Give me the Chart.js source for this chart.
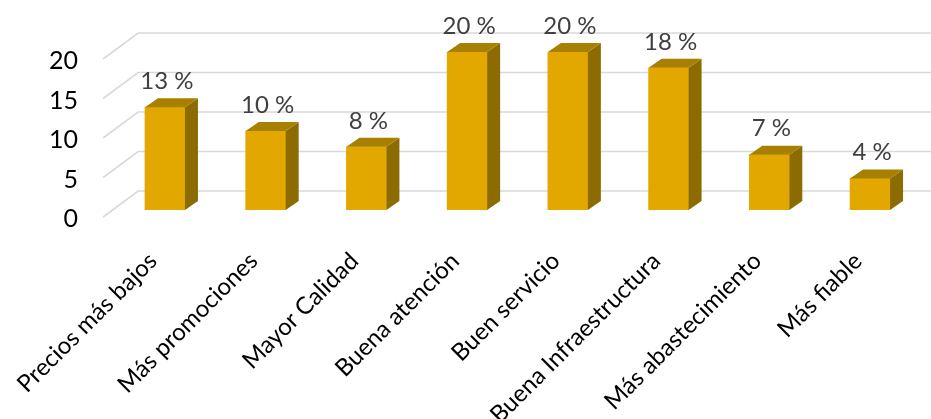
<!DOCTYPE html>
<html>
<head>
<meta charset="utf-8">
<script src="https://cdn.jsdelivr.net/npm/chart.js@4.4.1/dist/chart.umd.min.js"></script>
<style>
  html, body { margin: 0; padding: 0; background: #ffffff; }
  #wrap { width: 931px; height: 419px; }
</style>
</head>
<body>
<div id="wrap"><canvas id="c" width="931" height="419"></canvas></div>
<script>
// Percentages per reason
const categories = [
  'Precios más bajos', 'Más promociones', 'Mayor Calidad', 'Buena atención',
  'Buen servicio', 'Buena Infraestructura', 'Más abastecimiento', 'Más fiable'
];
const values = [13, 10, 8, 20, 20, 18, 7, 4];
const yTicks = [0, 5, 10, 15, 20];

const FONT = 'Lato, "Noto Sans", sans-serif';
const FRONT = '#E2A800';
const SIDE = '#8C6C00';
const TOP = '#A78000';
const DEPTH_X = 13, DEPTH_Y = -9;   // bar extrusion
const WALL_X = 24, WALL_Y = -19;    // back wall relative to bar plane
const FLOOR_X = -11, FLOOR_Y = 7;   // front edge relative to bar plane

const perspective = {
  id: 'perspective',
  beforeDatasetsDraw(chart) {
    const ctx = chart.ctx;
    const y = chart.scales.y;
    const left = chart.chartArea.left;
    ctx.save();
    ctx.strokeStyle = '#d9d9d9';
    ctx.lineWidth = 1.6;
    yTicks.forEach(v => {
      const py = y.getPixelForValue(v);
      const bx = left + 23.5, by = py + WALL_Y;
      ctx.beginPath();
      ctx.moveTo(bx - (WALL_X - FLOOR_X), py + FLOOR_Y);
      ctx.lineTo(bx, by);
      ctx.lineTo(chart.width, by);
      ctx.stroke();
    });
    // value axis labels
    ctx.fillStyle = '#000000';
    ctx.font = '25px ' + FONT;
    ctx.textAlign = 'right';
    ctx.textBaseline = 'middle';
    yTicks.forEach(v => {
      ctx.fillText(String(v), 78, y.getPixelForValue(v) + 9);
    });
    ctx.restore();
  },
  afterDatasetsDraw(chart) {
    const ctx = chart.ctx;
    const meta = chart.getDatasetMeta(0);
    const xs = chart.scales.x;
    ctx.save();
    meta.data.forEach((bar, i) => {
      const l = bar.x - bar.width / 2, r = bar.x + bar.width / 2;
      const t = bar.y, b = bar.base;
      // side face
      ctx.fillStyle = SIDE;
      ctx.beginPath();
      ctx.moveTo(r, t);
      ctx.lineTo(r + DEPTH_X, t + DEPTH_Y);
      ctx.lineTo(r + DEPTH_X, b + DEPTH_Y);
      ctx.lineTo(r, b);
      ctx.closePath();
      ctx.fill();
      // top face
      ctx.fillStyle = TOP;
      ctx.beginPath();
      ctx.moveTo(l, t);
      ctx.lineTo(l + DEPTH_X, t + DEPTH_Y);
      ctx.lineTo(r + DEPTH_X, t + DEPTH_Y);
      ctx.lineTo(r, t);
      ctx.closePath();
      ctx.fill();
      // value label
      ctx.fillStyle = '#404040';
      ctx.font = '24px ' + FONT;
      ctx.textAlign = 'center';
      ctx.textBaseline = 'middle';
      ctx.fillText(values[i] + ' %', bar.x + 2, t - 26);
    });
    // category labels
    ctx.fillStyle = '#000000';
    ctx.font = '24px ' + FONT;
    ctx.textAlign = 'right';
    ctx.textBaseline = 'middle';
    categories.forEach((c, i) => {
      const px = xs.getPixelForValue(i);
      ctx.save();
      ctx.translate(px - 12, 257);
      ctx.rotate(-Math.PI / 4);
      ctx.fillText(c, 0, 0);
      ctx.restore();
    });
    ctx.restore();
  }
};

new Chart(document.getElementById('c'), {
  type: 'bar',
  data: {
    labels: categories,
    datasets: [{
      data: values,
      backgroundColor: FRONT,
      borderWidth: 0,
      barThickness: 40
    }]
  },
  options: {
    responsive: false,
    animation: false,
    layout: { padding: { left: 114.6, right: 10.6, top: 52, bottom: 209 } },
    plugins: { legend: { display: false }, tooltip: { enabled: false } },
    scales: {
      x: { display: false },
      y: { display: false, min: 0, max: 20 }
    }
  },
  plugins: [perspective]
});
</script>
</body>
</html>
